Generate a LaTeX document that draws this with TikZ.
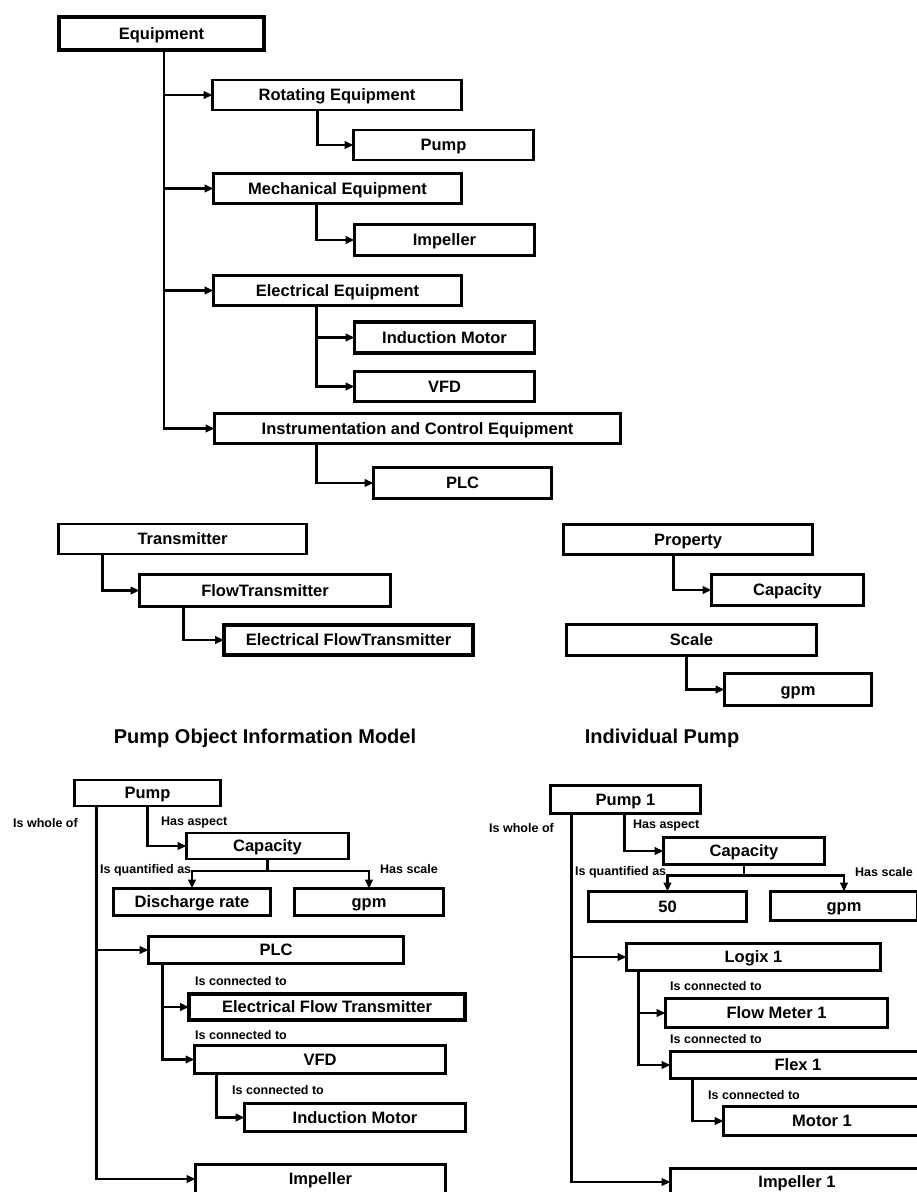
\documentclass[tikz,border=0pt]{standalone}
\usepackage{fontspec}
\setmainfont{Liberation Sans}
\usetikzlibrary{arrows.meta,positioning}

\begin{document}
\begin{tikzpicture}[x=1pt,y=-1pt,
  box/.style={draw, line width=2.8pt, inner sep=0pt, outer sep=0pt, minimum height=30pt,
    text height=11.8pt, text depth=0.5pt, font=\bfseries\fontsize{16.5}{16.5}\selectfont},
  heavy/.style={line width=3.8pt},
  lbl/.style={inner sep=0pt, font=\bfseries\fontsize{12.5}{12.5}\selectfont},
  title/.style={inner sep=0pt, font=\bfseries\fontsize{20}{20}\selectfont},
  link/.style={line width=2.8pt, -{Triangle[length=9pt,width=7.5pt]}}]
  \useasboundingbox (0,0) rectangle (917,1192);
  \clip (0,0) rectangle (917,1192);

  % class hierarchy
  \node[box, heavy, minimum width=205pt, minimum height=33pt] (equip) at (161.5,33.5) {Equipment};
  \node[box, minimum width=249pt] (rot) at (337,95) {Rotating Equipment};
  \node[box, minimum width=180pt] (pump) at (443.5,145) {Pump};
  \node[box, minimum width=248pt] (mech) at (337.5,188.5) {Mechanical Equipment};
  \node[box, minimum width=180pt, minimum height=31pt] (imp) at (444.5,240) {Impeller};
  \node[box, minimum width=248pt] (elec) at (337.5,290.5) {Electrical Equipment};
  \node[box, heavy, minimum width=180pt, minimum height=31pt] (induc) at (444.5,337.5) {Induction Motor};
  \node[box, minimum width=180pt] (vfd) at (444.5,386.5) {VFD};
  \node[box, minimum width=406pt] (instr) at (417.5,428.5) {Instrumentation and Control Equipment};
  \node[box, minimum width=178pt, minimum height=31pt] (plc) at (462.5,483) {PLC};

  \draw[link] ([xshift=105pt]equip.south west) |- (rot.west);
  \draw[link] ([xshift=105pt]equip.south west) |- (mech.west);
  \draw[link] ([xshift=105pt]equip.south west) |- (elec.west);
  \draw[link] ([xshift=105pt]equip.south west) |- (instr.west);
  \draw[link] ([xshift=105pt]rot.south west) |- (pump.west);
  \draw[link] ([xshift=103pt]mech.south west) |- (imp.west);
  \draw[link] ([xshift=103pt]elec.south west) |- (induc.west);
  \draw[link] ([xshift=103pt]elec.south west) |- (vfd.west);
  \draw[link] ([xshift=102pt]instr.south west) |- (plc.west);

  \node[box, minimum width=248pt] (trans) at (182.5,539) {Transmitter};
  \node[box, minimum width=251pt, minimum height=32pt] (flowt) at (265,590.5) {FlowTransmitter};
  \node[box, heavy, minimum width=249pt, minimum height=30pt] (eflowt) at (348.5,640) {Electrical FlowTransmitter};
  \draw[link] ([xshift=44pt]trans.south west) |- (flowt.west);
  \draw[link] ([xshift=44pt]flowt.south west) |- (eflowt.west);

  \node[box, minimum width=249pt] (prop) at (688,539.5) {Property};
  \node[box, minimum width=152pt, minimum height=31pt] (pcap) at (787.5,590) {Capacity};
  \node[box, minimum width=250pt, minimum height=31pt] (scale) at (691.5,640) {Scale};
  \node[box, minimum width=147pt, minimum height=32pt] (sgpm) at (798,689.5) {gpm};
  \draw[link] ([xshift=110pt]prop.south west) |- (pcap.west);
  \draw[link] ([xshift=120pt]scale.south west) |- (sgpm.west);

  \node[title] (tmodel) at (265,738) {Pump Object Information Model};
  \node[title] (tpump) at (662,738) {Individual Pump};

  % object model
  \node[box, minimum width=146pt, minimum height=26pt] (pumpb) at (147.5,793) {Pump};
  \node[box, minimum width=162pt, minimum height=26pt] (capb) at (267.5,846) {Capacity};
  \node[box, minimum width=157pt, minimum height=27pt] (drate) at (192,902) {Discharge rate};
  \node[box, minimum width=149pt, minimum height=27pt] (bgpm) at (369,902) {gpm};
  \node[box, minimum width=255pt, minimum height=27pt] (plcb) at (276,950) {PLC};
  \node[box, heavy, minimum width=276pt, minimum height=26pt] (eftb) at (327,1007) {Electrical Flow Transmitter};
  \node[box, minimum width=251pt, minimum height=28pt] (vfdb) at (320,1059.5) {VFD};
  \node[box, minimum width=221pt, minimum height=28pt] (indb) at (355,1117.5) {Induction Motor};
  \node[box, minimum width=250pt, minimum height=29pt] (impb) at (320.5,1179) {Impeller};

  \node[lbl, anchor=west] (lwhole) at (13,823) {Is whole of};
  \node[lbl, anchor=west] (laspect) at (161,822) {Has aspect};
  \node[lbl, anchor=west] (lquant) at (100,870) {Is quantified as};
  \node[lbl, anchor=west] (lscale) at (380,869) {Has scale};
  \node[lbl, anchor=west] (lconn) at (195,981) {Is connected to};
  \node[lbl, anchor=west] (lconnb) at (195,1035) {Is connected to};
  \node[lbl, anchor=west] (lconnc) at (232,1090) {Is connected to};

  \draw[link] ([xshift=73pt]pumpb.south west) |- (capb.west);
  \draw[link] (capb.south) -- ++(0,12) -| (drate.north);
  \draw[link] (capb.south) -- ++(0,12) -| (bgpm.north);
  \draw[link] ([xshift=22pt]pumpb.south west) |- (plcb.west);
  \draw[link] ([xshift=22pt]pumpb.south west) |- (impb.west);
  \draw[link] ([xshift=14pt]plcb.south west) |- (eftb.west);
  \draw[link] ([xshift=14pt]plcb.south west) |- (vfdb.west);
  \draw[link] ([xshift=22pt]vfdb.south west) |- (indb.west);

  % individual pump
  \node[box, minimum width=150pt, minimum height=28pt] (pumpa) at (625.5,799.5) {Pump 1};
  \node[box, minimum width=161pt, minimum height=27pt] (capa) at (744,851) {Capacity};
  \node[box, minimum width=158pt, minimum height=30pt] (vfifty) at (667.5,906.5) {50};
  \node[box, minimum width=147pt, minimum height=29pt] (agpm) at (844,906) {gpm};
  \node[box, minimum width=254pt, minimum height=27pt] (logix) at (753.5,957) {Logix 1};
  \node[box, minimum width=222pt, minimum height=29pt] (fmeter) at (776.5,1013) {Flow Meter 1};
  \node[box, minimum width=255pt, minimum height=27pt] (flex) at (798,1065) {Flex 1};
  \node[box, minimum width=197pt, minimum height=29pt] (motor) at (822,1121) {Motor 1};
  \node[box, minimum width=253pt, minimum height=27pt] (impa) at (797,1182) {Impeller 1};

  \node[lbl, anchor=east] (awhole) at (554,828) {Is whole of};
  \node[lbl, anchor=west] (aaspect) at (633,825) {Has aspect};
  \node[lbl, anchor=west] (aquant) at (575,872) {Is quantified as};
  \node[lbl, anchor=west] (ascale) at (855,872) {Has scale};
  \node[lbl, anchor=west] (aconn) at (670,986) {Is connected to};
  \node[lbl, anchor=west] (aconnb) at (670,1039) {Is connected to};
  \node[lbl, anchor=west] (aconnc) at (708,1095) {Is connected to};

  \draw[link] ([xshift=74pt]pumpa.south west) |- (capa.west);
  \draw[link] (capa.south) -- ++(0,11) -| (vfifty.north);
  \draw[link] (capa.south) -- ++(0,11) -| (agpm.north);
  \draw[link] ([xshift=21pt]pumpa.south west) |- (logix.west);
  \draw[link] ([xshift=21pt]pumpa.south west) |- (impa.west);
  \draw[link] ([xshift=12pt]logix.south west) |- (fmeter.west);
  \draw[link] ([xshift=12pt]logix.south west) |- (flex.west);
  \draw[link] ([xshift=22pt]flex.south west) |- (motor.west);
\end{tikzpicture}
\end{document}
